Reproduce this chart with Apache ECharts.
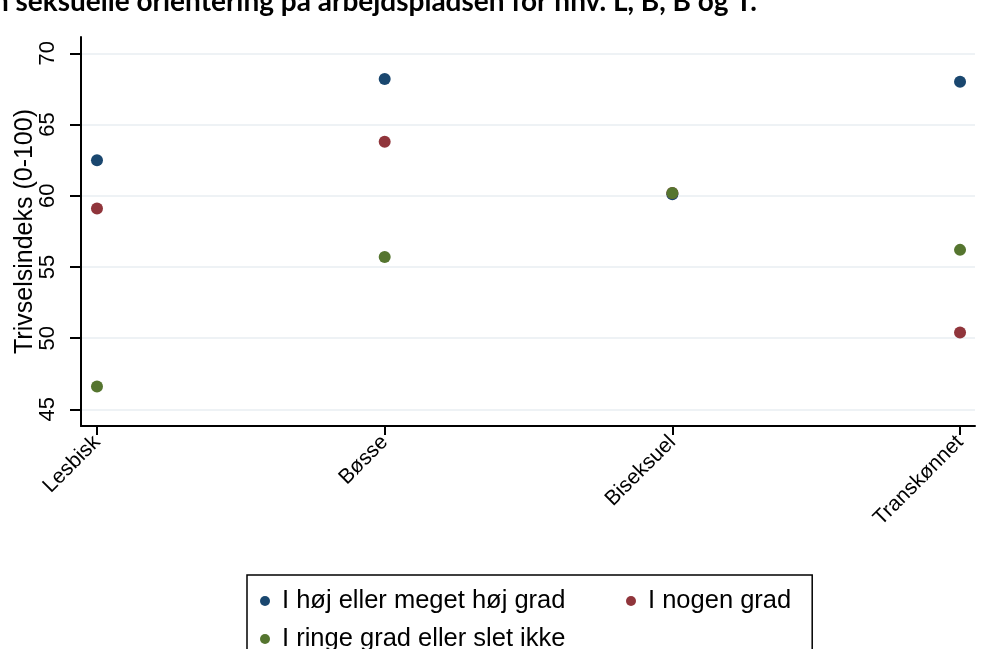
<!DOCTYPE html>
<html>
<head>
<meta charset="utf-8">
<script src="https://cdn.jsdelivr.net/npm/echarts@6/dist/echarts.min.js"></script>
<style>
  html, body { margin: 0; padding: 0; background: #fff; }
  #chart { width: 987px; height: 649px; }
</style>
</head>
<body>
<div id="chart"></div>
<script>
const categories = ['Lesbisk', 'Bøsse', 'Biseksuel', 'Transkønnet'];
const seriesNames = ['I høj eller meget høj grad', 'I nogen grad', 'I ringe grad eller slet ikke'];
const hojGrad = [62.5, 68.2, 60.1, 68.0];
const nogenGrad = [59.1, 63.8, 60.2, 50.4];
const ringeGrad = [46.6, 55.7, 60.2, 56.2];
const yTicks = [45, 50, 55, 60, 65, 70];

const colors = ['#1a476f', '#90353b', '#55752f'];
const font = 'Liberation Sans, Arial, sans-serif';

// punkter: x = kategoriens indeks, y = værdi
const toPoints = values => values.map((v, i) => [i, v]);

const chart = echarts.init(document.getElementById('chart'));

const option = {
  animation: false,
  backgroundColor: '#fff',
  color: colors,
  title: {
    text: 'Trivsel fordelt på åbenhed om sin seksuelle orientering på arbejdspladsen for hhv. L, B, B og T.',
    right: 230,
    top: -12,
    padding: 0,
    textStyle: {
      fontFamily: 'Lato, sans-serif',
      fontWeight: 'bold',
      fontSize: 28,
      color: '#000'
    }
  },
  grid: {
    left: 81,
    right: 12,
    top: 37,
    bottom: 223,
    outerBoundsMode: 'none',
    containLabel: false
  },
  xAxis: {
    type: 'value',
    min: -0.0556,
    max: 3.052,
    axisLine: { show: true, onZero: false, lineStyle: { color: '#000', width: 2 } },
    axisTick: {
      show: true,
      length: 9,
      customValues: categories.map((c, i) => i),
      lineStyle: { color: '#000', width: 2 }
    },
    axisLabel: {
      customValues: categories.map((c, i) => i),
      formatter: v => categories[Math.round(v)],
      rotate: 45,
      margin: 13,
      fontFamily: font,
      fontSize: 21,
      color: '#000'
    },
    splitLine: { show: false }
  },
  yAxis: {
    type: 'value',
    min: 43.83,
    max: 71.15,
    name: 'Trivselsindeks (0-100)',
    nameLocation: 'middle',
    nameRotate: 90,
    nameGap: 43,
    nameMoveOverlap: false,
    nameTextStyle: { fontFamily: font, fontSize: 25, color: '#000' },
    axisLine: { show: true, onZero: false, lineStyle: { color: '#000', width: 2 } },
    axisTick: {
      show: true,
      length: 11,
      customValues: yTicks,
      lineStyle: { color: '#000', width: 2 }
    },
    axisLabel: {
      customValues: yTicks,
      rotate: 90,
      margin: 22,
      fontFamily: font,
      fontSize: 22,
      color: '#000'
    },
    splitLine: { show: true, lineStyle: { color: '#e8eef2', width: 1.5 } }
  },
  legend: {
    left: 247,
    top: 575,
    width: 560,
    orient: 'horizontal',
    padding: [11, 21, 10, 13],
    itemGap: 8,
    itemWidth: 24,
    itemHeight: 10,
    icon: 'circle',
    borderColor: '#000',
    borderWidth: 1.5,
    borderRadius: 0,
    textStyle: { fontFamily: font, fontSize: 25.5, color: '#000', lineHeight: 30 },
    data: [
      { name: seriesNames[0], textStyle: { width: 336 } },
      { name: seriesNames[1] },
      { name: seriesNames[2] }
    ]
  },
  series: seriesNames.map((name, i) => ({
    name: name,
    type: 'scatter',
    symbolSize: 12,
    itemStyle: { opacity: 1 },
    data: toPoints([hojGrad, nogenGrad, ringeGrad][i])
  }))
};

chart.setOption(option);
</script>
</body>
</html>
